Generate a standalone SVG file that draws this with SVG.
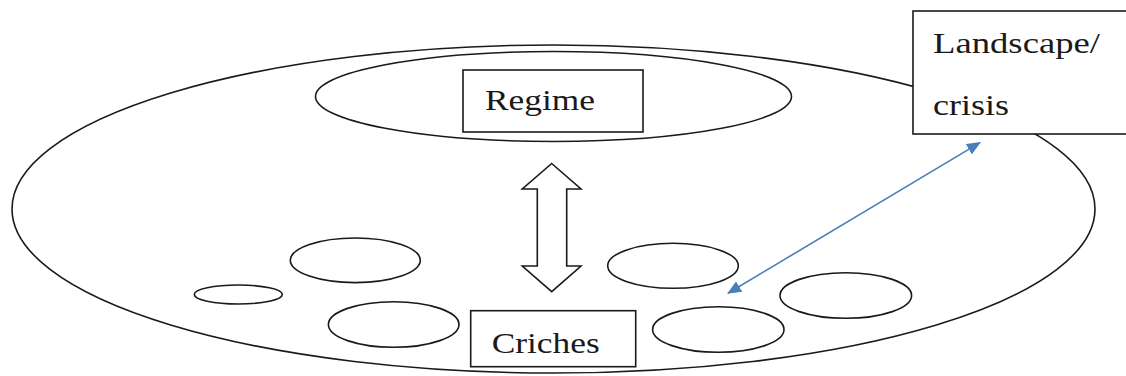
<svg xmlns="http://www.w3.org/2000/svg" width="1126" height="376" viewBox="0 0 1126 376">
<defs>
<style>
.ol{fill:none;stroke:#1a1a1a;stroke-width:1.6}
.box{fill:#fff;stroke:#1a1a1a;stroke-width:1.6}
.t{font-family:'Liberation Serif','DejaVu Serif',serif;font-size:30px;fill:#1a1a1a}
.conn{fill:none;stroke:#4a7ebb;stroke-width:1.6}
</style>
<marker id="ah" viewBox="0 0 14 12" refX="13" refY="6" markerWidth="14" markerHeight="12" orient="auto-start-reverse" markerUnits="userSpaceOnUse">
<path d="M0,0 L14,6 L0,12 z" fill="#4a7ebb"/>
</marker>
</defs>
<rect width="1126" height="376" fill="#fff"/>
<g id="niche-space">
<ellipse class="ol" cx="553.5" cy="209" rx="541.5" ry="164"/>
</g>
<g id="regime">
<ellipse class="ol" cx="553.5" cy="96.5" rx="238" ry="45"/>
<rect class="box" x="463" y="70" width="180" height="62"/>
<text class="t" x="485" y="110" textLength="110" lengthAdjust="spacingAndGlyphs">Regime</text>
</g>
<g id="landscape">
<rect class="box" x="913" y="11" width="220" height="123"/>
<text class="t" x="933" y="53" textLength="167" lengthAdjust="spacingAndGlyphs">Landscape/</text>
<text class="t" x="933" y="115" textLength="76" lengthAdjust="spacingAndGlyphs">crisis</text>
</g>
<g id="niches">
<ellipse class="ol" cx="355.3" cy="260.3" rx="65" ry="22.3"/>
<ellipse class="ol" cx="238.3" cy="294.5" rx="44" ry="9.5"/>
<ellipse class="ol" cx="393.7" cy="324.5" rx="65.3" ry="22.8"/>
<ellipse class="ol" cx="673" cy="265.8" rx="65.3" ry="22.5"/>
<ellipse class="ol" cx="845.8" cy="295.5" rx="65.8" ry="22.8"/>
<ellipse class="ol" cx="718.3" cy="329.5" rx="65.7" ry="22.8"/>
</g>
<g id="criches">
<rect class="box" x="470.7" y="310.7" width="165" height="56"/>
<text class="t" x="491.7" y="352.7" textLength="108" lengthAdjust="spacingAndGlyphs">Criches</text>
</g>
<g id="connectors">
<path class="box" d="M551.7,163.5 L581,189 L566.7,189 L566.7,266 L581,266 L551.7,291.7 L522.3,266 L537.3,266 L537.3,189 L522.3,189 Z"/>
<line class="conn" x1="728" y1="293.2" x2="980" y2="142.6" marker-start="url(#ah)" marker-end="url(#ah)"/>
</g>
</svg>
